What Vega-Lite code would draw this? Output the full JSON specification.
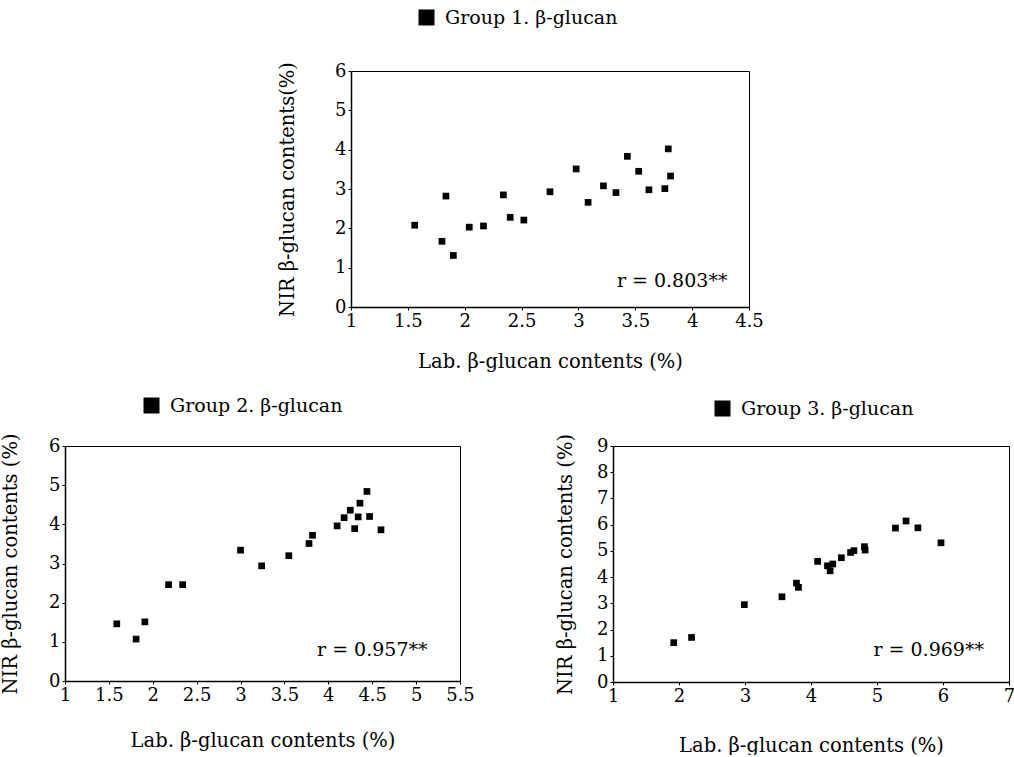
{
  "$schema": "https://vega.github.io/schema/vega-lite/v6.json",
  "padding": {"left": 0, "top": 8, "right": 0, "bottom": 0},
  "background": "white",
  "datasets": {
    "g1": [
      {"lab": 1.56, "nir": 2.08, "group": "Group 1. β-glucan"},
      {"lab": 1.80, "nir": 1.67, "group": "Group 1. β-glucan"},
      {"lab": 1.835, "nir": 2.82, "group": "Group 1. β-glucan"},
      {"lab": 1.90, "nir": 1.31, "group": "Group 1. β-glucan"},
      {"lab": 2.04, "nir": 2.03, "group": "Group 1. β-glucan"},
      {"lab": 2.165, "nir": 2.06, "group": "Group 1. β-glucan"},
      {"lab": 2.34, "nir": 2.85, "group": "Group 1. β-glucan"},
      {"lab": 2.40, "nir": 2.28, "group": "Group 1. β-glucan"},
      {"lab": 2.52, "nir": 2.21, "group": "Group 1. β-glucan"},
      {"lab": 2.75, "nir": 2.93, "group": "Group 1. β-glucan"},
      {"lab": 2.98, "nir": 3.51, "group": "Group 1. β-glucan"},
      {"lab": 3.085, "nir": 2.66, "group": "Group 1. β-glucan"},
      {"lab": 3.22, "nir": 3.08, "group": "Group 1. β-glucan"},
      {"lab": 3.33, "nir": 2.91, "group": "Group 1. β-glucan"},
      {"lab": 3.43, "nir": 3.83, "group": "Group 1. β-glucan"},
      {"lab": 3.53, "nir": 3.45, "group": "Group 1. β-glucan"},
      {"lab": 3.62, "nir": 2.98, "group": "Group 1. β-glucan"},
      {"lab": 3.76, "nir": 3.01, "group": "Group 1. β-glucan"},
      {"lab": 3.79, "nir": 4.02, "group": "Group 1. β-glucan"},
      {"lab": 3.81, "nir": 3.33, "group": "Group 1. β-glucan"}
    ],
    "g2": [
      {"lab": 1.59, "nir": 1.46, "group": "Group 2. β-glucan"},
      {"lab": 1.81, "nir": 1.07, "group": "Group 2. β-glucan"},
      {"lab": 1.91, "nir": 1.51, "group": "Group 2. β-glucan"},
      {"lab": 2.18, "nir": 2.46, "group": "Group 2. β-glucan"},
      {"lab": 2.34, "nir": 2.46, "group": "Group 2. β-glucan"},
      {"lab": 3.00, "nir": 3.34, "group": "Group 2. β-glucan"},
      {"lab": 3.24, "nir": 2.94, "group": "Group 2. β-glucan"},
      {"lab": 3.55, "nir": 3.20, "group": "Group 2. β-glucan"},
      {"lab": 3.78, "nir": 3.51, "group": "Group 2. β-glucan"},
      {"lab": 3.82, "nir": 3.72, "group": "Group 2. β-glucan"},
      {"lab": 4.10, "nir": 3.96, "group": "Group 2. β-glucan"},
      {"lab": 4.18, "nir": 4.17, "group": "Group 2. β-glucan"},
      {"lab": 4.25, "nir": 4.36, "group": "Group 2. β-glucan"},
      {"lab": 4.30, "nir": 3.89, "group": "Group 2. β-glucan"},
      {"lab": 4.34, "nir": 4.19, "group": "Group 2. β-glucan"},
      {"lab": 4.36, "nir": 4.54, "group": "Group 2. β-glucan"},
      {"lab": 4.44, "nir": 4.84, "group": "Group 2. β-glucan"},
      {"lab": 4.47, "nir": 4.20, "group": "Group 2. β-glucan"},
      {"lab": 4.60, "nir": 3.86, "group": "Group 2. β-glucan"}
    ],
    "g3": [
      {"lab": 1.92, "nir": 1.50, "group": "Group 3. β-glucan"},
      {"lab": 2.19, "nir": 1.70, "group": "Group 3. β-glucan"},
      {"lab": 2.99, "nir": 2.95, "group": "Group 3. β-glucan"},
      {"lab": 3.56, "nir": 3.25, "group": "Group 3. β-glucan"},
      {"lab": 3.78, "nir": 3.77, "group": "Group 3. β-glucan"},
      {"lab": 3.81, "nir": 3.61, "group": "Group 3. β-glucan"},
      {"lab": 4.10, "nir": 4.60, "group": "Group 3. β-glucan"},
      {"lab": 4.25, "nir": 4.43, "group": "Group 3. β-glucan"},
      {"lab": 4.29, "nir": 4.24, "group": "Group 3. β-glucan"},
      {"lab": 4.33, "nir": 4.50, "group": "Group 3. β-glucan"},
      {"lab": 4.46, "nir": 4.74, "group": "Group 3. β-glucan"},
      {"lab": 4.60, "nir": 4.94, "group": "Group 3. β-glucan"},
      {"lab": 4.65, "nir": 5.01, "group": "Group 3. β-glucan"},
      {"lab": 4.81, "nir": 5.16, "group": "Group 3. β-glucan"},
      {"lab": 4.82, "nir": 5.03, "group": "Group 3. β-glucan"},
      {"lab": 5.28, "nir": 5.87, "group": "Group 3. β-glucan"},
      {"lab": 5.44, "nir": 6.14, "group": "Group 3. β-glucan"},
      {"lab": 5.62, "nir": 5.88, "group": "Group 3. β-glucan"},
      {"lab": 5.97, "nir": 5.31, "group": "Group 3. β-glucan"}
    ]
  },
  "vconcat": [
    {
      "hconcat": [
        {
          "width": 192,
          "height": 10,
          "view": {"stroke": null},
          "data": {"values": []},
          "mark": "point",
          "encoding": {}
        },
        {
          "width": 398,
          "height": 236,
          "layer": [
            {
              "data": {"name": "g1"},
              "mark": {"type": "square", "size": 45, "opacity": 1},
              "encoding": {
                "x": {"field": "lab", "type": "quantitative",
                      "scale": {"domain": [1, 4.5], "nice": false, "zero": false},
                      "axis": {"title": "Lab. β-glucan contents (%)", "values": [1, 1.5, 2, 2.5, 3, 3.5, 4, 4.5], "tickCount": 30, "format": "~g", "labelOverlap": false, "titlePadding": 22}},
                "y": {"field": "nir", "type": "quantitative",
                      "scale": {"domain": [0, 6], "nice": false},
                      "axis": {"title": "NIR β-glucan contents(%)", "values": [0, 1, 2, 3, 4, 5, 6], "tickCount": 30, "format": "~g", "labelOverlap": false, "titlePadding": 37}},
                "color": {"field": "group", "type": "nominal",
                          "scale": {"range": ["black"]},
                          "legend": {"title": null, "orient": "none", "legendX": 352, "legendY": -63}}
              }
            },
            {
              "data": {"values": [{"label": "r = 0.803**"}]},
              "mark": {"type": "text", "align": "right", "baseline": "alphabetic", "fontSize": 19, "font": "DejaVu Serif", "color": "black"},
              "encoding": {
                "x": {"datum": 4.31},
                "y": {"datum": 0.5},
                "text": {"field": "label"}
              }
            }
          ]
        }
      ],
      "spacing": 20
    },
    {
      "hconcat": [
        {
          "width": 395,
          "height": 235,
          "layer": [
            {
              "data": {"name": "g2"},
              "mark": {"type": "square", "size": 45, "opacity": 1},
              "encoding": {
                "x": {"field": "lab", "type": "quantitative",
                      "scale": {"domain": [1, 5.5], "nice": false, "zero": false},
                      "axis": {"title": "Lab. β-glucan contents (%)", "values": [1, 1.5, 2, 2.5, 3, 3.5, 4, 4.5, 5, 5.5], "tickCount": 30, "format": "~g", "labelOverlap": false, "titlePadding": 27}},
                "y": {"field": "nir", "type": "quantitative",
                      "scale": {"domain": [0, 6], "nice": false},
                      "axis": {"title": "NIR β-glucan contents (%)", "values": [0, 1, 2, 3, 4, 5, 6], "tickCount": 30, "format": "~g", "labelOverlap": false, "titlePadding": 28}},
                "color": {"field": "group", "type": "nominal",
                          "scale": {"range": ["black"]},
                          "legend": {"title": null, "orient": "none", "legendX": 77, "legendY": -50}}
              }
            },
            {
              "data": {"values": [{"label": "r = 0.957**"}]},
              "mark": {"type": "text", "align": "right", "baseline": "alphabetic", "fontSize": 19, "font": "DejaVu Serif", "color": "black"},
              "encoding": {
                "x": {"datum": 5.13},
                "y": {"datum": 0.65},
                "text": {"field": "label"}
              }
            }
          ]
        },
        {
          "width": 396,
          "height": 236,
          "layer": [
            {
              "data": {"name": "g3"},
              "mark": {"type": "square", "size": 45, "opacity": 1},
              "encoding": {
                "x": {"field": "lab", "type": "quantitative",
                      "scale": {"domain": [1, 7], "nice": false, "zero": false},
                      "axis": {"title": "Lab. β-glucan contents (%)", "values": [1, 2, 3, 4, 5, 6, 7], "tickCount": 30, "format": "~g", "labelOverlap": false, "titlePadding": 31}},
                "y": {"field": "nir", "type": "quantitative",
                      "scale": {"domain": [0, 9], "nice": false},
                      "axis": {"title": "NIR β-glucan contents (%)", "values": [0, 1, 2, 3, 4, 5, 6, 7, 8, 9], "tickCount": 30, "format": "~g", "labelOverlap": false, "titlePadding": 21}},
                "color": {"field": "group", "type": "nominal",
                          "scale": {"range": ["black"]},
                          "legend": {"title": null, "orient": "none", "legendX": 100, "legendY": -47}}
              }
            },
            {
              "data": {"values": [{"label": "r = 0.969**"}]},
              "mark": {"type": "text", "align": "right", "baseline": "alphabetic", "fontSize": 19, "font": "DejaVu Serif", "color": "black"},
              "encoding": {
                "x": {"datum": 6.62},
                "y": {"datum": 0.99},
                "text": {"field": "label"}
              }
            }
          ]
        }
      ],
      "spacing": 80,
      "resolve": {"scale": {"color": "independent"}, "legend": {"color": "independent"}}
    }
  ],
  "spacing": 24,
  "resolve": {"scale": {"color": "independent"}, "legend": {"color": "independent"}},
  "config": {
    "font": "DejaVu Serif",
    "view": {"stroke": "black", "strokeWidth": 1},
    "axis": {
      "grid": false,
      "domainColor": "black",
      "domainWidth": 1.5,
      "tickColor": "black",
      "tickSize": 3,
      "labelPadding": 2,
      "labelFont": "DejaVu Serif",
      "labelFontSize": 18,
      "labelColor": "black",
      "labelFlush": false,
      "labelOverlap": false,
      "titleFont": "DejaVu Serif",
      "titleFontSize": 19.5,
      "titleFontWeight": "normal",
      "titleColor": "black"
    },
    "legend": {
      "symbolType": "square",
      "symbolSize": 210,
      "symbolFillColor": "black",
      "symbolStrokeColor": "black",
      "symbolOpacity": 1,
      "labelFont": "DejaVu Serif",
      "labelFontSize": 19,
      "labelColor": "black",
      "labelOffset": 9,
      "padding": 0,
      "labelLimit": 400
    }
  }
}
